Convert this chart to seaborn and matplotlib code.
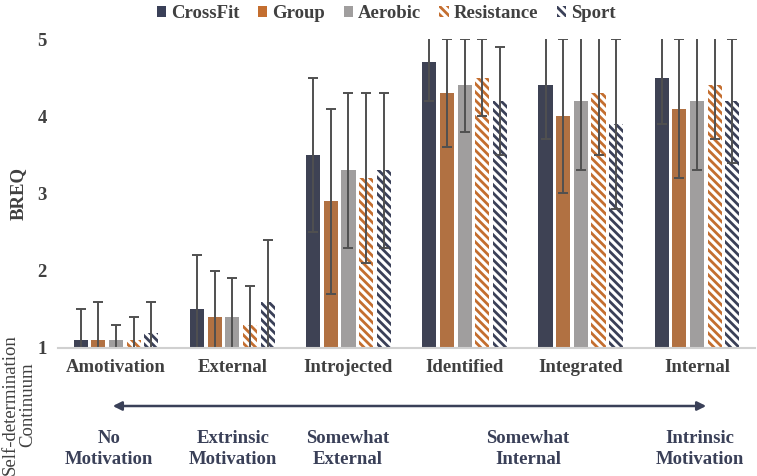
import matplotlib
matplotlib.use("Agg")
import matplotlib.pyplot as plt
import seaborn as sns
import pandas as pd
from matplotlib.patches import Patch

categories = ["Amotivation", "External", "Introjected", "Identified", "Integrated", "Internal"]
groups = ["CrossFit", "Group", "Aerobic", "Resistance", "Sport"]

crossfit = [1.1, 1.5, 3.5, 4.7, 4.4, 4.5]
group = [1.1, 1.4, 2.9, 4.3, 4.0, 4.1]
aerobic = [1.1, 1.4, 3.3, 4.4, 4.2, 4.2]
resistance = [1.1, 1.3, 3.2, 4.5, 4.3, 4.4]
sport = [1.2, 1.6, 3.3, 4.2, 3.9, 4.2]

crossfit_sd = [0.4, 0.7, 1.0, 0.5, 0.7, 0.6]
group_sd = [0.5, 0.6, 1.2, 0.7, 1.0, 0.9]
aerobic_sd = [0.2, 0.5, 1.0, 0.6, 0.9, 0.9]
resistance_sd = [0.3, 0.5, 1.1, 0.5, 0.8, 0.7]
sport_sd = [0.4, 0.8, 1.0, 0.7, 1.1, 0.8]

continuum_labels = ["No\nMotivation", "Extrinsic\nMotivation", "Somewhat\nExternal",
                    "Somewhat\nInternal", "Intrinsic\nMotivation"]

navy = "#3a4058"
orange = "#c46e2f"
grey = "#a09e9e"
colors = [navy, orange, grey, orange, navy]
hatched = [False, False, False, True, True]

means = [crossfit, group, aerobic, resistance, sport]
sds = [crossfit_sd, group_sd, aerobic_sd, resistance_sd, sport_sd]

df = pd.DataFrame({
    "motivation": categories * len(groups),
    "exercise": [g for g in groups for _ in categories],
    "score": [v for m in means for v in m],
})

sns.set_style("white")
plt.rcParams["font.family"] = ["Liberation Serif", "DejaVu Serif"]
plt.rcParams["hatch.linewidth"] = 2.0

fig = plt.figure(figsize=(7.57, 4.76), dpi=100)
ax = fig.add_axes([0.0766, 0.269, 0.921, 0.649])

sns.barplot(data=df, x="motivation", y="score", hue="exercise",
            palette=colors, width=0.76, gap=0.2, legend=False, ax=ax)

for container, col, h, sd in zip(ax.containers, colors, hatched, sds):
    xs = []
    ys = []
    for bar in container:
        if h:
            bar.set_facecolor("white")
            bar.set_edgecolor(col)
            bar.set_hatch("\\\\\\\\")
        bar.set_linewidth(0)
        xs.append(bar.get_x() + bar.get_width() / 2)
        ys.append(bar.get_height())
    ax.errorbar(xs, ys, yerr=sd, fmt="none", ecolor="#505050",
                elinewidth=1.4, capsize=3.5, capthick=1.4)

ax.set_ylim(1, 5)
ax.set_yticks([1, 2, 3, 4, 5])
ax.set_xlim(-0.5, 5.5)
ax.tick_params(axis="both", length=0, labelsize=13.5, labelcolor="#404040", pad=8)
for lab in ax.get_xticklabels() + ax.get_yticklabels():
    lab.set_fontweight("bold")
ax.set_xlabel("")
ax.set_ylabel("BREQ", fontsize=13.5, fontweight="bold", color="#404040", labelpad=8)
sns.despine(ax=ax, left=True)
ax.spines["bottom"].set_color("#d0d0d0")
ax.spines["bottom"].set_linewidth(1.5)

handles = []
for g, col, h in zip(groups, colors, hatched):
    if h:
        handles.append(Patch(facecolor="white", edgecolor=col, hatch="\\\\\\\\", linewidth=0, label=g))
    else:
        handles.append(Patch(facecolor=col, linewidth=0, label=g))
fig.legend(handles=handles, loc="upper center", bbox_to_anchor=(0.51, 1.025), ncol=5,
           frameon=False, handlelength=0.5, handleheight=0.5, handletextpad=0.25,
           columnspacing=1.0, prop={"weight": "bold", "size": 13.5}, labelcolor="#404040")

# self-determination continuum arrow
ax.annotate("", xy=(709 / 757, 1 - 406 / 476), xytext=(110 / 757, 1 - 406 / 476),
            xycoords="figure fraction", textcoords="figure fraction",
            arrowprops=dict(arrowstyle="<|-|>", color=navy, lw=1.8, mutation_scale=13))

label_x = [109, 233, 348, 528, 700]
for lx, txt in zip(label_x, continuum_labels):
    fig.text(lx / 757, 1 - 449 / 476, txt, ha="center", va="center", fontsize=13.5,
             fontweight="bold", color=navy, linespacing=1.25)

fig.text(19 / 757, 1 - 405 / 476, "Self-determination\nContinuum", rotation=90,
         ha="center", va="center", fontsize=13.5, color="#404040", linespacing=1.1)

fig.savefig("out.png", dpi=100)
